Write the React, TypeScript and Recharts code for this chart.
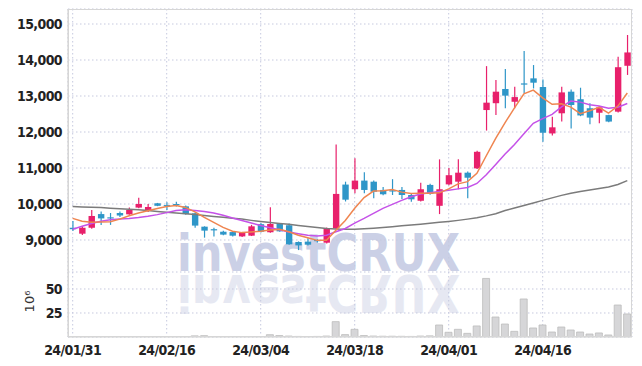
import React from "react";
import { ComposedChart, Bar, Line, XAxis, YAxis, CartesianGrid, Label } from "recharts";

// KRX trading days, 24/01/31 .. 24/04/29
const dates = [
  "24/01/31", "24/02/01", "24/02/02", "24/02/05", "24/02/06", "24/02/07", "24/02/08", "24/02/13", "24/02/14", "24/02/15",
  "24/02/16", "24/02/19", "24/02/20", "24/02/21", "24/02/22", "24/02/23", "24/02/26", "24/02/27", "24/02/28", "24/02/29",
  "24/03/04", "24/03/05", "24/03/06", "24/03/07", "24/03/08", "24/03/11", "24/03/12", "24/03/13", "24/03/14", "24/03/15",
  "24/03/18", "24/03/19", "24/03/20", "24/03/21", "24/03/22", "24/03/25", "24/03/26", "24/03/27", "24/03/28", "24/03/29",
  "24/04/01", "24/04/02", "24/04/03", "24/04/04", "24/04/05", "24/04/08", "24/04/09", "24/04/11", "24/04/12", "24/04/15",
  "24/04/16", "24/04/17", "24/04/18", "24/04/19", "24/04/22", "24/04/23", "24/04/24", "24/04/25", "24/04/26", "24/04/29",
];
const tickDates = ["24/01/31", "24/02/16", "24/03/04", "24/03/18", "24/04/01", "24/04/16"];

const opens = [
  9340, 9175, 9340, 9720, 9630, 9750, 9713, 9900, 9805, 10020,
  9970, 10000, 9935, 9740, 9370, 9300, 9230, 9220, 9100, 9120,
  9440, 9215, 9445, 9410, 8945, 8955, 9000, 8925, 9325, 10540,
  10410, 10650, 10620, 10390, 10380, 10390, 10250, 10090, 10530, 9950,
  10545, 10620, 10870, 10990, 12610, 12800, 13195, 12840, 13350, 13490,
  13250, 11960, 12520, 13120, 12910, 12660, 12535, 12470, 12565, 13840,
];
const closes = [
  9300, 9340, 9667, 9600, 9610, 9680, 9833, 10000, 9917, 9950,
  9940, 9975, 9720, 9400, 9260, 9270, 9150, 9120, 9200, 9380,
  9230, 9445, 9240, 8880, 8850, 8870, 8975, 9330, 10280, 10120,
  10650, 10390, 10340, 10270, 10350, 10250, 10130, 10410, 10280, 10410,
  10800, 10870, 10730, 11450, 12815, 13120, 13010, 12970, 13330, 13370,
  11980, 12130, 13100, 12750, 12460, 12400, 12685, 12290, 13800, 14210,
];
const highs = [
  9530, 9380, 9833, 9790, 9750, 9790, 9900, 10175, 10000, 10030,
  10050, 10060, 9960, 9760, 9380, 9340, 9260, 9240, 9220, 9420,
  9470, 9908, 9470, 9460, 8960, 9050, 9020, 9350, 11650, 10620,
  11270, 10880, 10650, 10470, 10690, 10470, 10280, 10590, 10560, 11240,
  11000, 11240, 10900, 11480, 13830, 13445, 13750, 13260, 14250, 13860,
  13460, 12425, 13260, 13180, 13230, 12800, 12720, 12480, 14090, 14695,
];
const lows = [
  9250, 9140, 9310, 9420, 9420, 9640, 9700, 9880, 9780, 9940,
  9833, 9930, 9700, 9340, 9065, 9100, 9130, 9100, 9080, 9110,
  9210, 9200, 9230, 8870, 8720, 8850, 8930, 8900, 9300, 10070,
  10300, 10300, 10160, 10240, 10250, 10140, 10065, 10070, 10260, 9720,
  10520, 10410, 10160, 10970, 12040, 12470, 12660, 12660, 13075, 13210,
  11730, 11900, 12290, 12100, 12440, 12215, 12240, 12270, 12540, 13585,
];

// moving averages
const ma5 = [
  9600, 9520, 9490, 9500, 9510, 9580, 9675, 9750, 9810, 9875,
  9930, 9960, 9905, 9780, 9630, 9490, 9350, 9245, 9205, 9225,
  9245, 9280, 9295, 9230, 9130, 9060, 8990, 8995, 9270, 9540,
  9880, 10180, 10360, 10370, 10400, 10330, 10290, 10300, 10300, 10310,
  10420, 10560, 10620, 10850, 11340, 11820, 12260, 12670, 13060, 13165,
  12950, 12770, 12785, 12690, 12510, 12590, 12685, 12525, 12720, 13085,
];
const ma10 = [
  9300, 9380, 9460, 9520, 9560, 9585, 9600, 9625, 9660, 9705,
  9760, 9820, 9840, 9820, 9790, 9750, 9690, 9610, 9540, 9470,
  9400, 9340, 9285, 9220, 9175, 9130, 9110, 9130, 9230, 9320,
  9470, 9600, 9740, 9880, 9990, 10100, 10200, 10280, 10310, 10345,
  10380, 10420, 10460, 10570, 10810, 11100, 11390, 11650, 11950, 12240,
  12370, 12490, 12700, 12860, 12830, 12760, 12720, 12660, 12690, 12790,
];
const maLong = [
  9930, 9920, 9910, 9900, 9885, 9870, 9855, 9840, 9820, 9795,
  9770, 9750, 9730, 9705, 9680, 9655, 9630, 9605, 9580, 9545,
  9515, 9485, 9460, 9435, 9405, 9375, 9345, 9320, 9305, 9300,
  9300, 9310, 9325, 9345, 9370, 9395, 9420, 9440, 9465, 9490,
  9515, 9545, 9580, 9620, 9670, 9730, 9820, 9890, 9960, 10030,
  10100, 10170, 10240, 10300, 10350, 10390, 10430, 10470, 10540, 10650,
];
// volume, millions of shares
const volumes = [
  0.4, 0.3, 0.5, 0.4, 0.3, 0.3, 0.4, 0.5, 0.4, 0.3,
  0.4, 0.3, 0.5, 1.2, 1.4, 0.5, 0.4, 0.4, 0.3, 0.4,
  0.5, 2.4, 1.5, 1.0, 0.6, 0.5, 0.6, 1.0, 16, 2.5,
  8, 1.5, 1.0, 0.8, 0.8, 0.7, 0.6, 1.0, 1.2, 12.5,
  4.9, 8, 3.8, 11.5, 61, 20.8, 13.5, 5.9, 39.6, 9.4,
  12.5, 5.2, 10.4, 7.3, 5.2, 3.1, 4.2, 2.1, 33.3, 24,
];

const priceTicks = [9000, 10000, 11000, 12000, 13000, 14000, 15000];
const volTicks = [25, 50];

const data = dates.map((date, i) => ({
  date,
  open: opens[i],
  close: closes[i],
  high: highs[i],
  low: lows[i],
  range: [lows[i], highs[i]],
  ma5: ma5[i],
  ma10: ma10[i],
  maLong: maLong[i],
  vol: volumes[i],
}));

const UP = "#e8206b";
const DOWN = "#2e96c8";
const GRID = "#c6c9df";
const TICK_FONT = "'Liberation Sans Narrow', 'DejaVu Sans Condensed', 'Roboto', sans-serif";
const tickStyle = { fill: "#222", fontSize: 14, fontWeight: 700, fontFamily: TICK_FONT, letterSpacing: -0.6 };

function Candle(props: any) {
  const { x, y, width, height, payload } = props;
  if (!payload) return null;
  const top = Math.min(y, y + height);
  const h = Math.abs(height);
  const { open, close, high, low } = payload;
  const k = h / (high - low || 1);
  const py = (v: number) => top + (high - v) * k;
  const cx = x + width / 2;
  const color = close >= open ? UP : DOWN;
  const bodyTop = py(Math.max(open, close));
  const bodyH = Math.max(1.2, py(Math.min(open, close)) - bodyTop);
  const bw = 6.4;
  return (
    <g>
      <line x1={cx} x2={cx} y1={top} y2={top + h} stroke={color} strokeWidth={1.2} />
      <rect x={cx - bw / 2} y={bodyTop} width={bw} height={bodyH} fill={color} />
    </g>
  );
}

function Watermark() {
  const common = {
    x: 177,
    fontFamily: "'DejaVu Sans', sans-serif",
    fontWeight: 700,
    fontSize: 52,
    textLength: 283,
    lengthAdjust: "spacingAndGlyphs",
  } as any;
  return (
    <svg width={642} height={366} style={{ position: "absolute", left: 0, top: 0 }}>
      <text {...common} y={271} fill="#cbd0e6">investCRUX</text>
      <g transform="translate(0,546) scale(1,-1)">
        <text {...common} y={271} fill="#e6e8f2">investCRUX</text>
      </g>
    </svg>
  );
}

const fmt = (v: number) => v.toLocaleString("en-US");
const noTick = () => <g />;

export default function App() {
  return (
    <div style={{ position: "absolute", left: 0, top: 0, width: 642, height: 366, background: "#fff" }}>
      <Watermark />
      <div style={{ position: "absolute", left: 0, top: 0 }}>
        <ComposedChart width={642} height={272} data={data} margin={{ top: 9, right: 10, bottom: 0, left: 0 }}>
          <CartesianGrid stroke={GRID} strokeDasharray="1.5 2.5" />
          <XAxis dataKey="date" ticks={tickDates} interval={0} tick={noTick} tickLine={false} height={0} axisLine={{ stroke: "#cfcfcf" }} />
          <YAxis
            domain={[8111, 15417]}
            allowDataOverflow
            ticks={priceTicks}
            width={68}
            tickLine={false}
            tickSize={4}
            tickMargin={2}
            axisLine={{ stroke: "#cfcfcf" }}
            tickFormatter={fmt}
            tick={tickStyle}
          />
          <Bar dataKey="range" shape={<Candle />} isAnimationActive={false} />
          <Line dataKey="maLong" stroke="#7b7b7b" strokeWidth={1.5} dot={false} isAnimationActive={false} />
          <Line dataKey="ma10" stroke="#c552e8" strokeWidth={1.5} dot={false} isAnimationActive={false} />
          <Line dataKey="ma5" stroke="#ef8550" strokeWidth={1.5} dot={false} isAnimationActive={false} />
        </ComposedChart>
      </div>
      <div style={{ position: "absolute", left: 0, top: 272 }}>
        <ComposedChart width={642} height={94} data={data} margin={{ top: 0, right: 10, bottom: 0, left: 0 }} barCategoryGap={1}>
          <CartesianGrid stroke={GRID} strokeDasharray="1.5 2.5" />
          <XAxis
            dataKey="date"
            ticks={tickDates}
            interval={0}
            tickLine={false}
            height={29}
            axisLine={{ stroke: "#cfcfcf" }}
            tick={tickStyle}
          />
          <YAxis
            domain={[0, 67.7]}
            allowDataOverflow
            ticks={volTicks}
            width={68}
            tickLine={false}
            tickSize={4}
            tickMargin={2}
            axisLine={{ stroke: "#cfcfcf" }}
            tick={tickStyle}
          >
            <Label
              content={({ viewBox }: any) => {
                const cx = viewBox.x + 34;
                const cy = viewBox.y + viewBox.height / 2 - 3;
                return (
                  <text x={cx} y={cy} transform={`rotate(-90 ${cx} ${cy})`} textAnchor="middle" fill="#333" fontSize={13} fontFamily="'DejaVu Sans', sans-serif">
                    10⁶
                  </text>
                );
              }}
            />
          </YAxis>
          <Bar dataKey="vol" fill="#d6d6d8" stroke="#bcbcbc" strokeWidth={0.8} isAnimationActive={false} />
        </ComposedChart>
      </div>
      <div style={{ position: "absolute", left: 68, top: 9, width: 564, height: 328, border: "1px solid #d6d6d6", boxSizing: "border-box", pointerEvents: "none" }} />
    </div>
  );
}
